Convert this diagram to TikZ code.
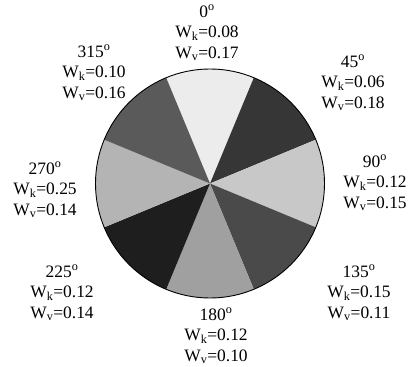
\documentclass[tikz,border=0pt]{standalone}
\usepackage{fontspec}
\setmainfont{Liberation Serif}
\definecolor{sA}{gray}{0.925}
\definecolor{sB}{gray}{0.212}
\definecolor{sC}{gray}{0.784}
\definecolor{sD}{gray}{0.290}
\definecolor{sE}{gray}{0.627}
\definecolor{sF}{gray}{0.118}
\definecolor{sG}{gray}{0.706}
\definecolor{sH}{gray}{0.353}
\tikzset{
  wlabel/.style={align=center, inner sep=0pt, font=\fontsize{17.5}{20.6}\selectfont},
  rim/.style={draw=black, line width=0.9bp}
}
\newcommand{\lbl}[3]{#1\textsuperscript{o}\\W\textsubscript{k}=#2\\W\textsubscript{v}=#3}
\begin{document}
\begin{tikzpicture}[x=1bp,y=-1bp]
\useasboundingbox (0,0) rectangle (409,367);
\coordinate (c) at (210,183.5);
\def\R{114.5}
\foreach \t/\col in {0/sA,45/sB,90/sC,135/sD,180/sE,225/sF,270/sG,315/sH}{
  \pgfmathsetmacro{\a}{\t-112.5}
  \pgfmathsetmacro{\b}{\t-67.5}
  \fill[\col] (c) -- ++(\a:\R) arc[start angle=\a, end angle=\b, radius=\R] -- cycle;
}
\node[circle, rim, minimum size=229bp, inner sep=0pt] (disc) at (c) {};
\node[wlabel] (l0) at (207,33) {\lbl{0}{0.08}{0.17}};
\node[wlabel] (l45) at (353,83) {\lbl{45}{0.06}{0.18}};
\node[wlabel] (l90) at (375,183) {\lbl{90}{0.12}{0.15}};
\node[wlabel] (l135) at (359,293) {\lbl{135}{0.15}{0.11}};
\node[wlabel] (l180) at (216,336) {\lbl{180}{0.12}{0.10}};
\node[wlabel] (l225) at (62,293) {\lbl{225}{0.12}{0.14}};
\node[wlabel] (l270) at (45,190) {\lbl{270}{0.25}{0.14}};
\node[wlabel] (l315) at (94,73) {\lbl{315}{0.10}{0.16}};
\end{tikzpicture}
\end{document}
